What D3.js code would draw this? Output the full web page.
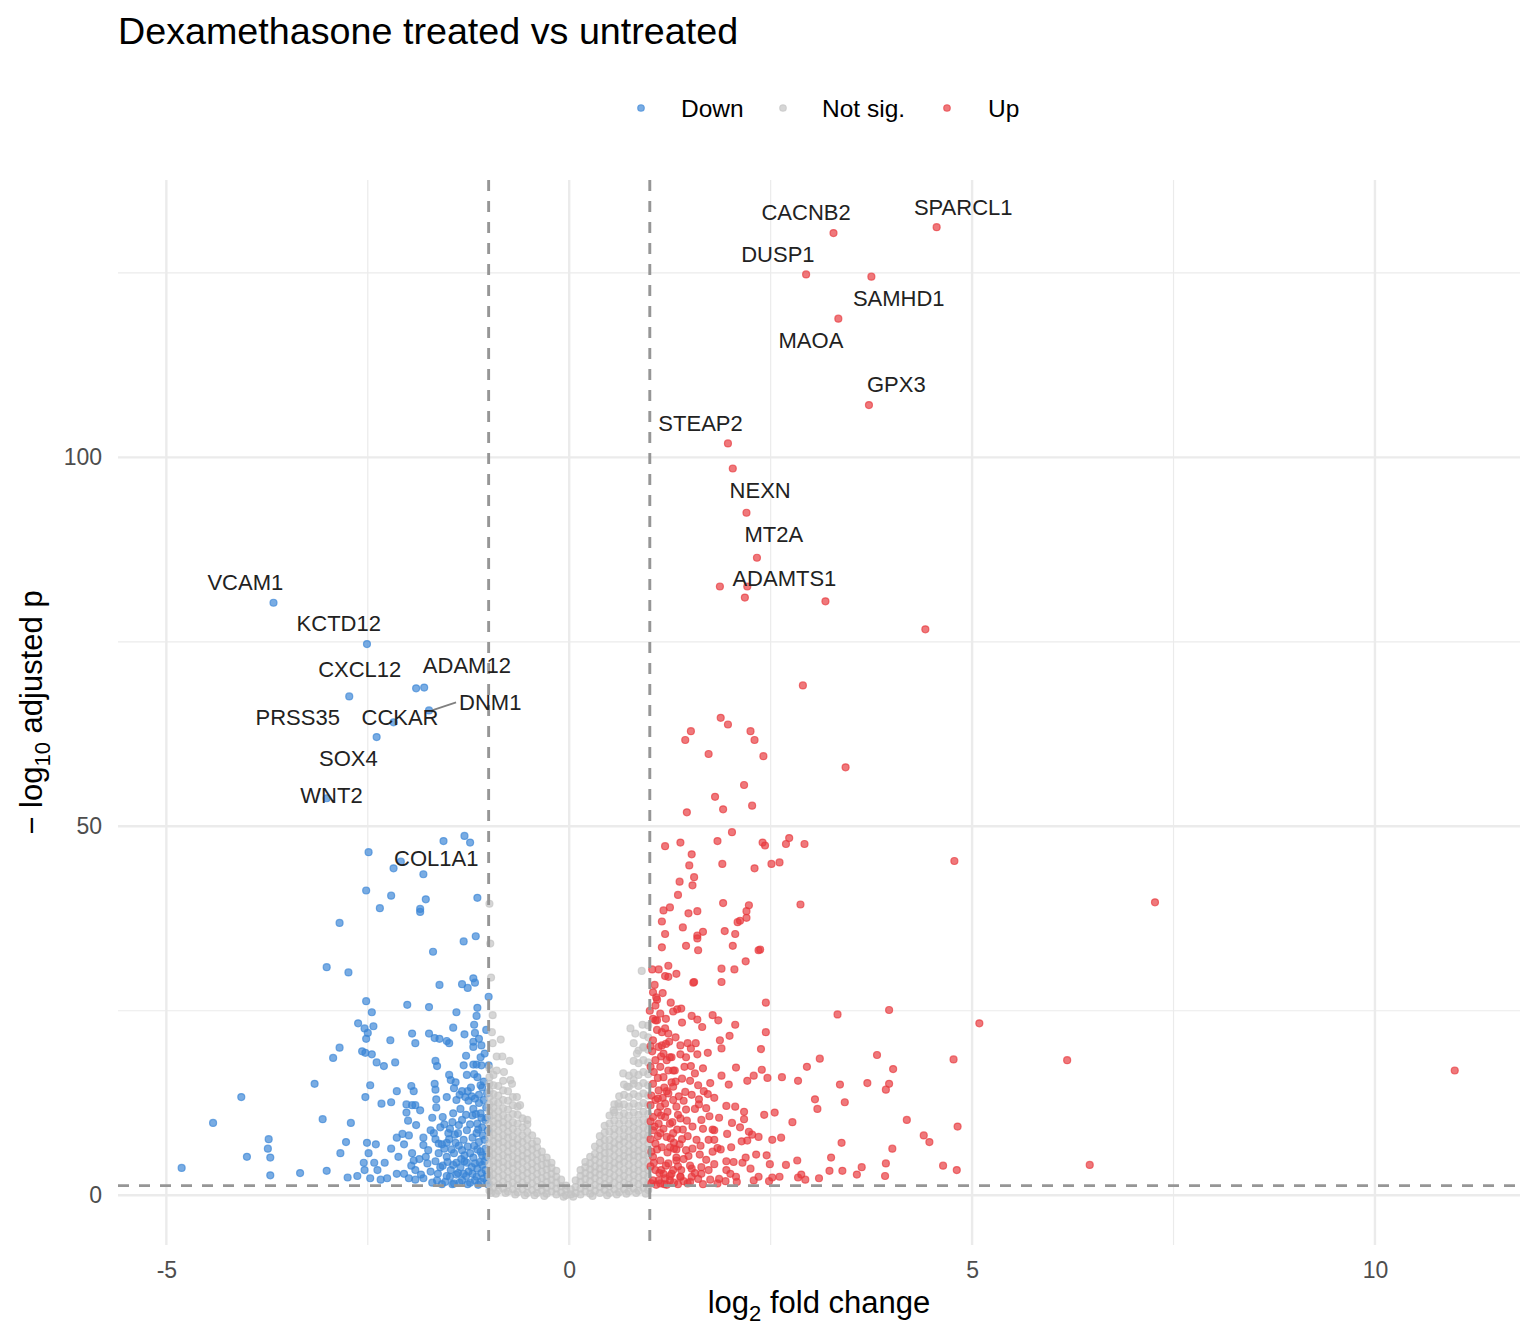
<!DOCTYPE html>
<html>
<head>
<meta charset="utf-8">
<script src="https://cdn.jsdelivr.net/npm/d3@7"></script>
<style>
  body { margin: 0; background: #fff; }
  svg { font-family: "Liberation Sans", Arial, Helvetica, sans-serif; }
</style>
</head>
<body>
<div id="volcano"></div>
<script>

// each point: [log2 fold change, -log10 adjusted p]
var downPoints = [
  [-3.67,80.3],[-2.51,74.7],[-1.90,68.7],[-1.80,68.8],[-2.73,67.6],[-1.74,65.7],[-2.18,64.1],[-2.39,62.1],[-3.01,53.8],
  [-1.30,48.7],[-1.23,47.8],[-1.56,48.0],[-2.49,46.5],[-2.18,44.3],[-2.09,45.2],[-1.81,43.5],[-2.52,41.3],[-2.21,40.6],
  [-1.78,40.1],[-1.14,40.3],[-2.35,38.9],[-1.85,38.8],[-1.85,38.4],[-2.85,36.9],[-1.69,33.0],[-1.31,34.4],[-1.16,35.1],
  [-3.01,30.9],[-2.74,30.2],[-1.61,28.5],[-1.33,28.6],[-1.26,28.1],[-1.19,29.4],[-1.17,28.8],[-1.00,26.9],[-2.52,26.3],
  [-2.01,25.8],[-1.74,25.5],[-1.40,24.8],[-1.14,25.4],[-1.15,24.3],[-1.18,23.1],[-2.45,24.8],[-2.62,23.3],[-2.54,22.6],
  [-2.50,22.0],[-2.43,22.9],[-2.52,21.2],[-1.44,22.7],[-1.95,21.9],[-1.91,20.6],[-1.74,21.9],[-1.67,21.3],[-1.61,21.2],
  [-1.52,20.9],[-1.49,20.6],[-1.30,21.8],[-1.17,22.0],[-1.12,21.2],[-1.19,20.8],[-1.09,20.3],[-1.19,20.1],[-2.22,21.0],
  [-2.85,20.0],[-2.93,18.6],[-2.57,19.5],[-2.53,19.3],[-2.45,19.1],[-2.39,18.0],[-2.30,17.5],[-2.16,18.0],[-1.28,18.9],
  [-1.10,18.7],[-1.66,18.2],[-1.64,17.5],[-1.31,17.6],[-1.19,17.7],[-1.15,17.7],[-1.09,17.6],[-1.00,17.6],
  [-3.16,15.1],[-2.47,14.9],[-2.53,13.3],[-2.14,14.1],[-1.96,14.8],[-1.93,14.1],[-1.67,15.1],[-1.66,14.3],[-1.65,13.0],
  [-1.49,16.3],[-1.47,15.6],[-1.41,15.3],[-1.43,14.5],[-1.27,16.3],[-1.18,16.4],[-1.14,16.0],[-1.10,14.9],[-1.33,14.1],
  [-1.29,13.3],[-1.21,13.4],[-1.12,13.6],[-2.33,12.4],[-2.21,12.6],[-2.02,12.3],[-1.95,12.2],[-1.91,12.2],[-2.02,11.2],
  [-1.65,11.9],[-1.52,13.3],
  [-4.07,13.3],[-4.42,9.8],[-3.06,10.3],[-2.71,9.8],[-3.73,7.6],[-3.74,6.3],[-3.71,5.1],[-4.00,5.2],[-4.81,3.7],
  [-3.71,2.7],[-3.34,3.0],[-3.01,3.3],[-2.77,7.2],[-2.84,5.7],[-2.75,2.4],[-2.63,2.6],[-2.51,7.1],[-2.40,6.9],
  [-2.49,5.7],[-2.55,4.4],[-2.42,4.4],[-2.29,4.4],[-2.54,3.4],[-2.38,3.4],[-2.47,2.3],[-2.34,2.1],[-2.26,2.3],
  [-2.14,7.8],[-2.07,8.3],[-1.99,8.1],[-2.21,6.3],[-2.12,5.2],[-2.05,6.9],[-1.95,5.7],[-1.93,4.7],[-1.96,4.0],
  [-1.91,3.4],[-1.81,7.8],[-1.81,6.8],[-1.78,5.2],[-1.76,4.3],[-2.14,2.9],[-2.05,2.9],[-1.99,2.3],[-1.91,2.1],
  [-1.81,2.3],[-1.70,1.7],[-1.68,8.4],[-1.62,7.0],[-1.52,7.1],[-1.41,7.1],[-1.38,8.4],[-1.33,10.2],[-1.27,8.8],
  [-1.15,8.4],[-1.57,10.6],[-1.45,9.9],[-1.48,9.0],[-1.37,9.5],[-1.19,11.7],[-1.10,11.1],[-1.04,10.2],[-1.14,9.7],
  [-1.62,5.7],[-1.52,5.2],[-1.43,5.7],[-1.33,6.1],[-1.23,5.7],[-1.10,5.9],[-1.03,5.2],[-1.60,3.8],[-1.47,3.4],
  [-1.35,3.8],[-1.25,3.2],[-1.14,3.6],[-1.04,3.4],[-1.64,2.0],[-1.54,1.8],[-1.43,1.6],[-1.33,2.0],[-1.23,1.7],
  [-1.10,1.8],[-1.02,2.0],
  [-1.05,7.5],[-1.08,9.2],[-1.12,12.5],[-1.02,13.8],[-1.06,15.4],[-1.20,10.8],[-1.25,12.8],[-1.35,11.7],[-1.40,12.9],
  [-1.30,4.6],[-1.40,4.4],[-1.18,6.7],[-1.50,8.4],[-1.55,6.3],[-1.60,9.2],[-1.70,10.5],[-1.05,19.2],[-1.03,22.4],
  [-1.08,4.1],[-1.28,2.6],[-1.48,2.5],[-1.90,9.5],[-2.00,10.1],[-1.85,11.5],[-1.15,2.5],[-1.02,2.8],[-1.12,7.2],
  [-1.22,14.6],[-1.02,10.5],
  [-1.01,1.5],[-1.06,2.3],[-1.09,3.0],[-1.13,1.4],[-1.17,2.0],[-1.20,2.9],[-1.26,1.5],[-1.31,2.9],[-1.36,1.7],
  [-1.40,2.8],[-1.45,1.5],[-1.52,2.6],[-1.58,1.5],[-1.63,2.9],[-1.05,4.6],[-1.11,4.5],[-1.17,4.3],[-1.21,3.8],
  [-1.27,4.4],[-1.34,4.9],[-1.44,4.1],[-1.51,4.5],[-1.57,4.0],[-1.66,4.6],[-1.04,6.3],[-1.08,5.4],[-1.14,6.2],
  [-1.19,5.1],[-1.26,6.6],[-1.30,5.4],[-1.37,6.7],[-1.46,6.2],[-1.58,6.9],[-1.07,8.1],[-1.01,8.8],[-1.13,8.9],
  [-1.20,7.8],[-1.23,9.6],[-1.31,7.5],[-1.42,8.2],[-1.55,9.6],[-1.03,11.9],[-1.09,10.5],[-1.16,11.0],[-1.28,10.9],
  [-1.44,11.1],[-1.06,12.9],[-1.17,13.1],[-1.26,14.1],[-1.08,14.6],[-1.36,13.6],[-1.72,3.2],[-1.75,6.1],[-1.86,4.9],
  [-1.84,2.8],[-1.66,7.6],[-1.72,8.8],[-1.38,3.0],[-1.49,7.6]
];

// not significant genes, given as columns: [log2 fold change, [-log10 adjusted p, ...]]
var notSigCols = [
  [-0.99,[0.6,1.5,2.5,3.3,4.2,5.2,6.0,6.9,7.9,8.7,9.6,10.6,11.4,12.3,13.3,14.1,15.1,16.0,17.2]],
  [-0.94,[1.0,1.9,2.8,3.8,4.6,5.5,6.5,7.3,8.2,9.2,10.0,10.9,11.9,12.7,13.7,14.9,16.3]],
  [-0.88,[0.6,1.4,2.4,3.3,4.3,5.1,6.0,7.0,7.8,8.7,9.7,10.5,11.4,12.5,13.5,14.8]],
  [-0.82,[0.9,1.8,2.7,3.7,4.5,5.4,6.4,7.2,8.1,9.1,9.9,10.8,11.8,12.9,14.2,15.5]],
  [-0.76,[0.5,1.4,2.3,3.2,4.1,5.1,5.9,6.8,7.8,8.6,9.5,10.5,11.6,12.8,14.1]],
  [-0.70,[0.8,1.7,2.6,3.6,4.4,5.3,6.3,7.1,8.0,9.0,9.9,11.0,12.2,13.3]],
  [-0.64,[0.4,1.3,2.2,3.1,4.1,4.9,5.8,6.8,7.6,8.6,9.7,10.9,12.0]],
  [-0.58,[0.8,1.7,2.6,3.5,4.5,5.3,6.2,7.2,8.1,9.2,10.4]],
  [-0.52,[0.3,1.2,2.1,3.0,3.9,4.9,5.7,6.6,7.6,8.6,9.6]],
  [-0.46,[0.7,1.6,2.5,3.4,4.3,5.2,6.2,7.0,8.1]],
  [-0.40,[0.3,1.1,2.0,2.9,3.8,4.7,5.6,6.5,7.3]],
  [-0.34,[0.6,1.4,2.3,3.2,4.1,5.0,5.9]],
  [-0.28,[0.2,1.0,1.8,2.6,3.5,4.3,5.1]],
  [-0.22,[0.5,1.3,2.1,2.9,3.7,4.4]],
  [-0.16,[0.1,0.9,1.7,2.5,3.3]],
  [-0.10,[0.4,1.2,2.1]],
  [-0.04,[0.0,0.8,1.3]],
  [0.02,[0.1,0.8]],
  [0.08,[0.3,1.1,2.0]],
  [0.14,[0.1,0.9,1.8,2.6,3.4]],
  [0.20,[0.5,1.3,2.2,3.0,3.8,4.5]],
  [0.26,[0.2,1.0,1.9,2.7,3.5,4.3,5.2]],
  [0.32,[0.6,1.4,2.3,3.1,3.9,4.8,5.6,6.6]],
  [0.38,[0.3,1.1,1.9,2.8,3.6,4.4,5.3,6.2,7.1,8.0]],
  [0.44,[0.7,1.5,2.4,3.2,4.0,4.9,5.7,6.6,7.5,8.5,9.4]],
  [0.50,[0.3,1.2,2.1,3.0,3.9,4.8,5.8,6.6,7.5,8.6,9.7,10.8]],
  [0.56,[0.8,1.7,2.6,3.6,4.4,5.3,6.3,7.1,8.1,9.0,10.1,11.2,12.3]],
  [0.62,[0.4,1.3,2.2,3.1,4.1,4.9,5.8,6.8,7.6,8.7,9.7,10.8,12.0,13.4]],
  [0.68,[0.8,1.7,2.6,3.5,4.5,5.3,6.2,7.2,8.0,9.0,10.1,11.1,12.3,13.6,15.0]],
  [0.74,[0.5,1.4,2.3,3.2,4.1,5.1,5.9,6.8,7.8,8.7,9.7,10.8,12.0,13.3,14.7,16.2]],
  [0.80,[0.9,1.8,2.7,3.6,4.6,5.4,6.3,7.3,8.1,9.1,10.1,11.2,12.4,13.7,15.1,16.6,18.2]],
  [0.86,[0.6,1.5,2.4,3.3,4.2,5.2,6.0,6.9,7.9,8.8,9.8,10.9,12.1,13.4,14.8,16.3,17.9,19.6]],
  [0.92,[1.0,1.9,2.8,3.7,4.7,5.5,6.4,7.4,8.2,9.2,10.2,11.3,12.5,13.8,15.2,16.7,18.3,20.0,21.7]],
  [0.98,[0.7,1.6,2.5,3.4,4.3,5.3,6.1,7.0,8.0,8.9,9.9,11.0,12.2,13.5,14.9,16.4,18.0,19.7,21.4,23.0]]
];

var notSigOutliers = [
  [-0.99,39.5],[-0.98,34.1],[-0.97,29.5],[-0.95,24.4],[-0.96,22.1],[-0.85,21.1],[-0.95,20.6],[-0.90,18.8],
  [-0.83,18.8],[-0.74,18.2],[-0.90,16.9],[-0.81,16.7],[-0.73,15.6],[-0.71,15.1],[-0.65,13.3],[-0.61,12.2],
  [-0.52,10.2],[0.90,30.4],[0.76,22.6],[0.82,21.9],[0.91,23.1],[0.80,20.6],[0.84,19.2],[0.92,20.1],
  [0.67,16.5],[0.72,14.7],[0.80,15.6],[0.55,11.5],[0.61,12.4],
  [-0.97,0.3],[-0.91,0.2],[-0.79,0.3],[-0.67,0.1],[-0.55,0.0],[-0.43,0.0],[0.47,0.0],[0.59,0.1],[0.71,0.2],
  [0.83,0.3],[0.95,0.2],[-0.07,-0.2],[0.05,-0.2],[-0.31,-0.1],[0.29,-0.1]
];

var upPoints = [
  [3.28,130.4],[4.56,131.2],[2.94,124.8],[3.75,124.5],[3.34,118.8],[3.72,107.1],[1.97,101.9],[2.03,98.5],[2.20,92.5],
  [2.33,86.4],[1.87,82.5],[2.21,82.5],[2.18,81.0],[3.18,80.5],[4.42,76.7],[2.90,69.1],[3.43,58.0],
  [1.88,64.7],[1.97,63.8],[1.51,62.9],[1.44,61.7],[2.25,62.9],[2.30,61.7],[1.73,59.8],[2.41,59.5],[2.17,55.6],
  [1.81,54.0],[1.91,52.3],[2.27,52.8],[1.46,51.9],[2.02,49.2],[1.19,47.3],[1.38,47.8],[1.84,48.0],[2.40,47.8],
  [2.43,47.4],[2.73,48.4],[2.69,47.6],[2.92,47.6],[1.52,46.2],[1.49,44.7],[1.90,44.9],[2.51,44.9],[2.61,45.1],
  [2.30,44.3],[1.55,43.1],[1.37,42.5],[1.53,42.0],[1.35,40.7],[1.91,39.6],[2.87,39.4],[2.23,39.3],[2.20,38.5],
  [1.25,39.0],[1.17,38.6],[1.48,38.2],[1.59,38.5],[2.20,37.6],[2.12,37.2],[2.09,37.0],[1.15,37.1],[1.41,36.3],
  [1.19,35.4],[1.59,35.2],[1.66,35.7],[1.93,35.8],[2.06,35.4],[7.27,39.7],[4.78,45.3],
  [1.15,33.6],[1.45,33.8],[1.60,33.2],[1.59,34.8],[2.03,33.8],[2.35,33.2],[2.37,33.3],[2.19,31.7],[1.89,30.7],
  [2.05,30.6],[1.89,28.9],[1.54,28.8],[1.55,28.9],[1.03,30.6],[1.11,30.6],[1.23,31.1],[1.23,29.6],[1.19,29.7],
  [1.33,30.0],[1.04,27.5],[1.16,27.4],[1.09,26.5],[1.07,25.7],[2.44,26.1],[3.33,24.5],[3.97,25.1],[5.09,23.3],
  [1.29,24.9],[1.34,25.2],[1.39,25.3],[1.52,24.3],[1.59,23.8],[1.65,22.8],[1.40,23.4],[1.78,24.4],[1.85,23.7],
  [2.06,23.1],[1.99,21.6],[1.87,21.0],[1.89,19.9],[2.44,22.1],[2.38,19.8],[1.20,23.9],[1.19,22.6],[1.04,23.9],
  [1.09,23.7],[1.47,20.6],[1.51,19.9],[1.38,20.3],[1.24,20.8],[1.15,20.3],[1.59,19.1],[1.72,19.3],[1.38,19.1],
  [1.27,18.7],[3.11,18.5],[2.95,17.4],[3.82,19.0],[4.02,17.1],[4.77,18.4],[2.07,17.3],[2.39,17.0],[2.29,16.2],
  [2.21,15.5],[2.46,15.9],[2.64,16.0],[2.84,15.5],[3.36,15.0],[3.70,15.2],[3.97,15.1],[3.93,14.3],[1.89,16.2],
  [1.75,15.2],[1.67,14.1],[1.43,17.4],[1.51,17.5],[1.31,16.9],[1.23,16.9],[1.40,15.8],[1.50,15.5],[1.44,14.0],
  [1.52,13.6],[1.29,14.7],[1.21,14.1],[3.05,13.0],[3.08,11.7],[3.42,12.6],[1.95,12.1],[1.61,13.0],[1.61,12.3],
  [2.17,11.3],[2.17,10.3],[2.42,10.9],[2.55,11.2],[2.77,9.9],[4.19,10.2],[4.40,8.1],[4.47,7.2],[4.82,9.3],
  [3.38,7.1],[4.01,6.3],[1.74,10.7],[1.64,10.2],[1.53,9.3],[1.41,8.9],[1.28,9.9],[1.38,10.4],[2.02,9.8],
  [2.12,9.2],[2.23,8.6],[2.27,8.2],[2.35,7.9],[2.52,7.5],[2.63,7.8],[2.14,7.3],[2.21,7.4],[1.78,8.9],
  [1.80,8.8],[1.73,7.5],[1.80,7.5],[1.84,6.4],[2.01,6.5],[1.63,6.7],[1.53,6.3],[1.45,6.1],[1.30,6.3],
  [1.33,5.1],[1.40,7.6],[1.33,6.2],[2.32,5.5],[2.45,5.4],[2.19,5.1],[2.15,4.4],[2.04,4.5],[1.95,3.4],
  [2.25,3.6],[2.49,4.2],[2.69,4.1],[2.83,4.7],[3.25,5.1],[3.63,3.8],[3.57,2.8],[3.23,3.3],[3.39,3.3],
  [3.93,4.3],[3.92,2.6],[4.64,4.0],[4.81,3.4],[3.10,2.3],[2.93,2.1],[2.84,2.4],[2.88,2.8],[2.61,2.5],
  [2.52,2.4],[2.48,1.9],[2.35,2.5],[2.29,2.0],[2.07,2.5],[2.08,1.8],[1.94,1.9],[1.86,2.2],[1.75,2.1],
  [1.64,2.9],[1.52,2.5],[1.50,1.8],[1.38,2.5],[1.73,3.4],[1.64,3.8],[1.52,3.6],[1.39,3.4],[1.29,3.4],
  [1.25,2.6],[1.14,3.4],[1.19,2.3],[1.11,2.0],[6.46,4.1],[6.18,18.3],[10.99,16.9],
  [1.07,23.7],[1.09,22.4],[1.04,21.0],[1.11,20.1],[1.17,19.2],[1.07,18.3],[1.13,17.4],[1.21,18.3],[1.25,18.7],
  [1.29,16.9],[1.17,16.0],[1.04,15.1],[1.11,14.2],[1.23,13.8],[1.07,12.9],[1.13,12.0],[1.19,12.4],[1.29,12.9],
  [1.33,12.0],[1.04,10.6],[1.11,9.7],[1.19,10.6],[1.25,9.7],[1.04,8.8],[1.13,8.4],[1.21,7.9],[1.29,8.4],
  [1.07,7.0],[1.15,6.5],[1.25,6.5],[1.04,5.2],[1.13,4.7],[1.23,4.3],[1.33,4.7],[1.07,3.4],[1.17,2.9],
  [1.27,2.9],[1.04,2.0],[1.13,1.6],[1.25,2.0],[1.38,2.5],
  [1.02,5.9],[1.06,9.3],[1.02,13.5],[1.05,16.7],[1.03,19.5],[1.08,26.8],[1.15,22.1],[1.20,20.5],[1.32,21.4],
  [1.10,11.2],[1.16,13.2],[1.22,5.8],[1.35,10.9],[1.30,7.1],[1.42,12.8],[1.46,10.1],[1.56,11.7],[1.60,14.9],
  [1.12,3.0],[1.02,1.6],[1.08,1.4],[1.18,1.5],[1.30,1.7],[1.42,1.9],[1.60,2.2],[1.70,4.8],[1.78,5.9],
  [1.88,6.2],[1.95,4.6],[1.50,4.0],[1.62,5.5],[1.70,11.8],[1.80,13.2],[1.47,8.0],[1.58,7.5],
  [1.01,3.9],[1.05,4.4],[1.09,6.2],[1.01,7.6],[1.10,8.0],[1.17,9.0],[1.01,10.0],[1.14,10.8],[1.22,11.3],
  [1.01,12.2],[1.10,13.1],[1.18,14.6],[1.27,15.3],[1.01,17.4],[1.10,15.9],[1.14,18.8],[1.01,20.2],[1.23,21.9],
  [1.06,28.5],[1.00,25.0],[1.13,24.6],[1.26,26.1],[1.20,4.0],[1.35,3.9],[1.42,4.9],[1.37,6.9],[1.48,5.3],
  [1.26,7.7],[1.34,8.9],[1.45,11.6],[1.36,13.4],[1.32,15.4],[1.45,18.7],[1.56,16.5],[1.66,17.2],[1.57,20.6],
  [1.72,13.7],[1.66,9.0],[1.86,10.5],[1.96,8.3],[2.06,12.0],[1.98,15.0],[1.84,1.6],[1.66,1.5],[1.21,1.4],
  [1.35,1.5],[1.47,1.6],[1.56,3.0],[1.80,4.2],[2.00,2.9]
];

// repelled gene labels: label centre, and the point when a leader segment is drawn
var geneLabels = [
  { gene: "SPARCL1", x: 4.89, y: 133.9 },
  { gene: "CACNB2", x: 2.94, y: 133.2 },
  { gene: "DUSP1", x: 2.59, y: 127.5 },
  { gene: "SAMHD1", x: 4.09, y: 121.5 },
  { gene: "MAOA", x: 3.00, y: 115.9 },
  { gene: "GPX3", x: 4.06, y: 109.9 },
  { gene: "STEAP2", x: 1.63, y: 104.6 },
  { gene: "NEXN", x: 2.37, y: 95.5 },
  { gene: "MT2A", x: 2.54, y: 89.6 },
  { gene: "ADAMTS1", x: 2.67, y: 83.6 },
  { gene: "VCAM1", x: -4.02, y: 83.1 },
  { gene: "KCTD12", x: -2.86, y: 77.5 },
  { gene: "CXCL12", x: -2.60, y: 71.3 },
  { gene: "ADAM12", x: -1.27, y: 71.8 },
  { gene: "DNM1", x: -0.98, y: 66.8, px: -1.74, py: 65.7 },
  { gene: "PRSS35", x: -3.37, y: 64.8 },
  { gene: "CCKAR", x: -2.10, y: 64.8 },
  { gene: "SOX4", x: -2.74, y: 59.2 },
  { gene: "WNT2", x: -2.95, y: 54.2 },
  { gene: "COL1A1", x: -1.65, y: 45.7 }
];

var xTicks = [-5, 0, 5, 10];
var yTicks = [0, 50, 100];
var xMinor = [-2.5, 2.5, 7.5];
var yMinor = [25, 75, 125];
var lfcCutoff = 1;
var padjCutoff = 0.05;
var legendKeys = ["Down", "Not sig.", "Up"];
var colors = { "Down": "#3a85d6", "Not sig.": "#c2c2c2", "Up": "#e8383d" };

// layout
var width = 1536, height = 1344;
var panel = { left: 118, right: 1520, top: 180, bottom: 1245 };

var svg = d3.select("#volcano")
  .append("svg")
  .attr("width", width)
  .attr("height", height);

var x = d3.scaleLinear().domain([-5.6, 11.8]).range([panel.left, panel.right]);
var y = d3.scaleLinear().domain([-6.75, 137.6]).range([panel.bottom, panel.top]);

// grid
var grid = svg.append("g");
grid.selectAll(".xminor").data(xMinor).enter().append("line")
  .attr("x1", d => x(d)).attr("x2", d => x(d))
  .attr("y1", panel.top).attr("y2", panel.bottom)
  .attr("stroke", "#ebebeb").attr("stroke-width", 1.2);
grid.selectAll(".yminor").data(yMinor).enter().append("line")
  .attr("x1", panel.left).attr("x2", panel.right)
  .attr("y1", d => y(d)).attr("y2", d => y(d))
  .attr("stroke", "#ebebeb").attr("stroke-width", 1.2);
grid.selectAll(".xmajor").data(xTicks).enter().append("line")
  .attr("x1", d => x(d)).attr("x2", d => x(d))
  .attr("y1", panel.top).attr("y2", panel.bottom)
  .attr("stroke", "#ebebeb").attr("stroke-width", 2.4);
grid.selectAll(".ymajor").data(yTicks).enter().append("line")
  .attr("x1", panel.left).attr("x2", panel.right)
  .attr("y1", d => y(d)).attr("y2", d => y(d))
  .attr("stroke", "#ebebeb").attr("stroke-width", 2.4);

// axes (text only, theme_minimal style)
var xAxis = svg.append("g")
  .attr("transform", "translate(0," + panel.bottom + ")")
  .call(d3.axisBottom(x).tickValues(xTicks).tickSize(0).tickPadding(17));
var yAxis = svg.append("g")
  .attr("transform", "translate(" + panel.left + ",0)")
  .call(d3.axisLeft(y).tickValues(yTicks).tickSize(0).tickPadding(16));
[xAxis, yAxis].forEach(function (a) {
  a.select(".domain").remove();
  a.selectAll("text")
    .attr("fill", "#4d4d4d")
    .style("font-size", "23px")
    .style("font-family", "'Liberation Sans', Arial, sans-serif");
});
xAxis.selectAll("text").text(d => d < 0 ? "-" + Math.abs(d) : d);

// flatten points
var notSigPoints = [];
notSigCols.forEach(function (c) {
  c[1].forEach(function (v) { notSigPoints.push([c[0], v]); });
});
notSigOutliers.forEach(function (p) { notSigPoints.push(p); });

function drawPoints(data, color) {
  svg.append("g")
    .selectAll("circle")
    .data(data)
    .enter()
    .append("circle")
    .attr("cx", d => x(d[0]))
    .attr("cy", d => y(d[1]))
    .attr("r", 3.5)
    .attr("fill", color)
    .attr("fill-opacity", 0.68)
    .attr("stroke", color)
    .attr("stroke-opacity", 0.68)
    .attr("stroke-width", 1.2);
}
drawPoints(downPoints, colors["Down"]);
drawPoints(notSigPoints, colors["Not sig."]);
drawPoints(upPoints, colors["Up"]);

// cut-off lines
var cut = svg.append("g")
  .attr("stroke", "#969696")
  .attr("stroke-width", 2.9)
  .attr("stroke-dasharray", "11,10");
cut.selectAll(".v").data([-lfcCutoff, lfcCutoff]).enter().append("line")
  .attr("x1", d => x(d)).attr("x2", d => x(d))
  .attr("y1", panel.top).attr("y2", panel.bottom);
cut.append("line")
  .attr("x1", panel.left).attr("x2", panel.right)
  .attr("y1", y(-Math.log10(padjCutoff))).attr("y2", y(-Math.log10(padjCutoff)));

// gene labels
var labels = svg.append("g");
geneLabels.forEach(function (l) {
  var t = labels.append("text")
    .attr("x", x(l.x))
    .attr("y", y(l.y))
    .attr("text-anchor", "middle")
    .attr("dominant-baseline", "central")
    .attr("fill", "#222")
    .style("font-size", "22px")
    .text(l.gene);
  if (l.px !== undefined) {
    var w = t.node().getComputedTextLength();
    labels.insert("line", "text")
      .attr("x1", x(l.px) + 3).attr("y1", y(l.py))
      .attr("x2", x(l.x) - w / 2 - 3).attr("y2", y(l.y))
      .attr("stroke", "#808080")
      .attr("stroke-width", 1.8);
  }
});

// title
svg.append("text")
  .attr("x", 118)
  .attr("y", 44)
  .style("font-size", "37.7px")
  .attr("fill", "#000")
  .text("Dexamethasone treated vs untreated");

// legend
var legendPos = [
  { dot: 641, text: 681 },
  { dot: 783, text: 822 },
  { dot: 947, text: 988 }
];
var legend = svg.append("g");
legendKeys.forEach(function (k, i) {
  legend.append("circle")
    .attr("cx", legendPos[i].dot).attr("cy", 108).attr("r", 3.3)
    .attr("fill", colors[k]).attr("fill-opacity", 0.68)
    .attr("stroke", colors[k]).attr("stroke-opacity", 0.68).attr("stroke-width", 1.1);
  legend.append("text")
    .attr("x", legendPos[i].text).attr("y", 108)
    .attr("dominant-baseline", "central")
    .style("font-size", "24.5px")
    .attr("fill", "#000")
    .text(k);
});

// axis titles
var xt = svg.append("text")
  .attr("x", (panel.left + panel.right) / 2)
  .attr("y", 1313)
  .attr("text-anchor", "middle")
  .style("font-size", "31px")
  .attr("fill", "#000");
xt.append("tspan").text("log");
xt.append("tspan").attr("dy", 8).style("font-size", "22px").text("2");
xt.append("tspan").attr("dy", -8).text(" fold change");

var yt = svg.append("text")
  .attr("transform", "translate(42," + ((panel.top + panel.bottom) / 2) + ") rotate(-90)")
  .attr("text-anchor", "middle")
  .style("font-size", "31px")
  .attr("fill", "#000");
yt.append("tspan").text("\u2212 log");
yt.append("tspan").attr("dy", 8).style("font-size", "22px").text("10");
yt.append("tspan").attr("dy", -8).text(" adjusted p");

</script>
</body>
</html>
